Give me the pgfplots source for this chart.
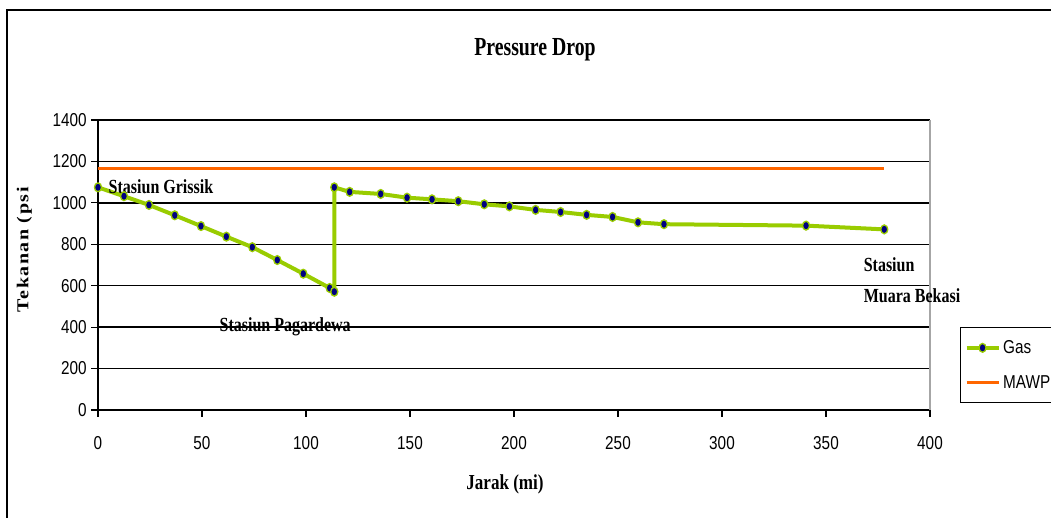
\documentclass[border=0pt]{standalone}
\usepackage{fontspec}
\setmainfont{Liberation Serif}
\newfontfamily\serifc[FakeStretch=0.8]{Liberation Serif}
\newfontfamily\titlef[FakeStretch=0.76]{Liberation Serif}
\newfontfamily\sansc[FakeStretch=0.82]{Liberation Sans}
\newfontfamily\serifls[FakeStretch=1.2,LetterSpace=9]{Liberation Serif}
\usepackage{pgfplots}
\pgfplotsset{compat=1.18}
\definecolor{gasgreen}{RGB}{153,204,0}
\definecolor{mawp}{RGB}{255,102,0}
\definecolor{navym}{RGB}{0,0,128}

\begin{document}
\begin{tikzpicture}
\path[use as bounding box] (-73.5pt,-81pt) rectangle (714.75pt,307.5pt);
\clip (-73.5pt,-81pt) rectangle (714.75pt,307.5pt);
\draw[line width=1.5pt] (-67.9pt,-120pt) rectangle (760pt,300pt);
\begin{axis}[
  at={(0pt,0pt)}, anchor=south west,
  width=624pt, height=217.5pt, scale only axis,
  xmin=0, xmax=400, ymin=0, ymax=1400,
  xtick={0,50,...,400}, ytick={0,200,...,1400},
  ymajorgrids, major grid style={black, line width=1.1pt},
  axis x line*=bottom, axis y line*=left,
  axis line style={black, line width=1.1pt, -},
  every outer x axis line/.append style={-},
  every outer y axis line/.append style={-},
  tick align=outside, major tick length=5pt,
  tick style={black, line width=0.8pt},
  tick label style={font=\sansc\fontsize{14}{16}\selectfont},
  xticklabel style={yshift=-11.5pt},
  /pgf/number format/assume math mode=true,
  /pgf/number format/1000 sep={},
  legend style={at={(1.036,0.286)}, anchor=north west, draw=black, line width=0.9pt,
    font=\sansc\fontsize{14}{16}\selectfont, row sep=11pt, inner xsep=3pt, inner ysep=7.5pt,
    cells={anchor=west}},
  legend image code/.code={\draw[mark repeat=2,mark phase=2] plot coordinates {(0pt,0pt) (12pt,0pt) (24pt,0pt)};},
  clip=false,
]
\draw[gray!70, line width=1pt] (rel axis cs:1,0) -- (rel axis cs:1,1);
\addplot[gasgreen, line width=3pt, mark=*, mark size=3.3pt,
  mark options={fill=navym, draw=gasgreen, line width=1pt, xscale=0.8, solid}]
coordinates {
(0,1075) (12.5,1032) (24.5,990) (36.9,940) (49.5,888) (61.7,837) (74.2,786)
(86.2,724) (98.7,658) (111.4,589) (113.6,571) (113.6,1075) (121,1053)
(135.9,1043) (148.6,1025) (160.6,1017) (173.2,1008) (185.7,993) (197.8,983)
(210.4,966) (222.4,956) (234.9,942) (247.4,932) (259.6,906) (272.1,897)
(340.4,890) (378,872)
};
\addlegendentry{Gas}
\addplot[mawp, line width=2.3pt] coordinates {
(0,1168) (12.5,1168) (24.5,1168) (36.9,1168) (49.5,1168) (61.7,1168) (74.2,1168)
(86.2,1168) (98.7,1168) (111.4,1168) (113.6,1168) (121,1168)
(135.9,1168) (148.6,1168) (160.6,1168) (173.2,1168) (185.7,1168) (197.8,1168)
(210.4,1168) (222.4,1168) (234.9,1168) (247.4,1168) (259.6,1168) (272.1,1168)
(340.4,1168) (378,1168)
};
\addlegendentry{MAWP}
\node[anchor=base west, font=\serifc\bfseries\fontsize{15}{17}\selectfont] at (axis cs:2.9,1046) {Stasiun Grissik};
\node[anchor=base, font=\serifc\bfseries\fontsize{15}{17}\selectfont] at (axis cs:90,378) {Stasiun Pagardewa};
\node[anchor=base west, font=\serifc\bfseries\fontsize{15}{17}\selectfont] at (axis cs:365.9,668) {Stasiun};
\node[anchor=base west, font=\serifc\bfseries\fontsize{15}{17}\selectfont] at (axis cs:365.9,518) {Muara Bekasi};
\end{axis}
\node[anchor=base, font=\titlef\bfseries\fontsize{19.5}{22}\selectfont] at (327.75pt,265.5pt) {Pressure Drop};
\node[anchor=base, font=\serifc\bfseries\fontsize{16}{18}\selectfont] at (305.25pt,-60pt) {Jarak (mi)};
\node[anchor=base west, rotate=90, font=\serifls\bfseries\fontsize{12.5}{14}\selectfont] at (-52.3pt,69.75pt) {Tekanan (psi};
\end{tikzpicture}
\end{document}
